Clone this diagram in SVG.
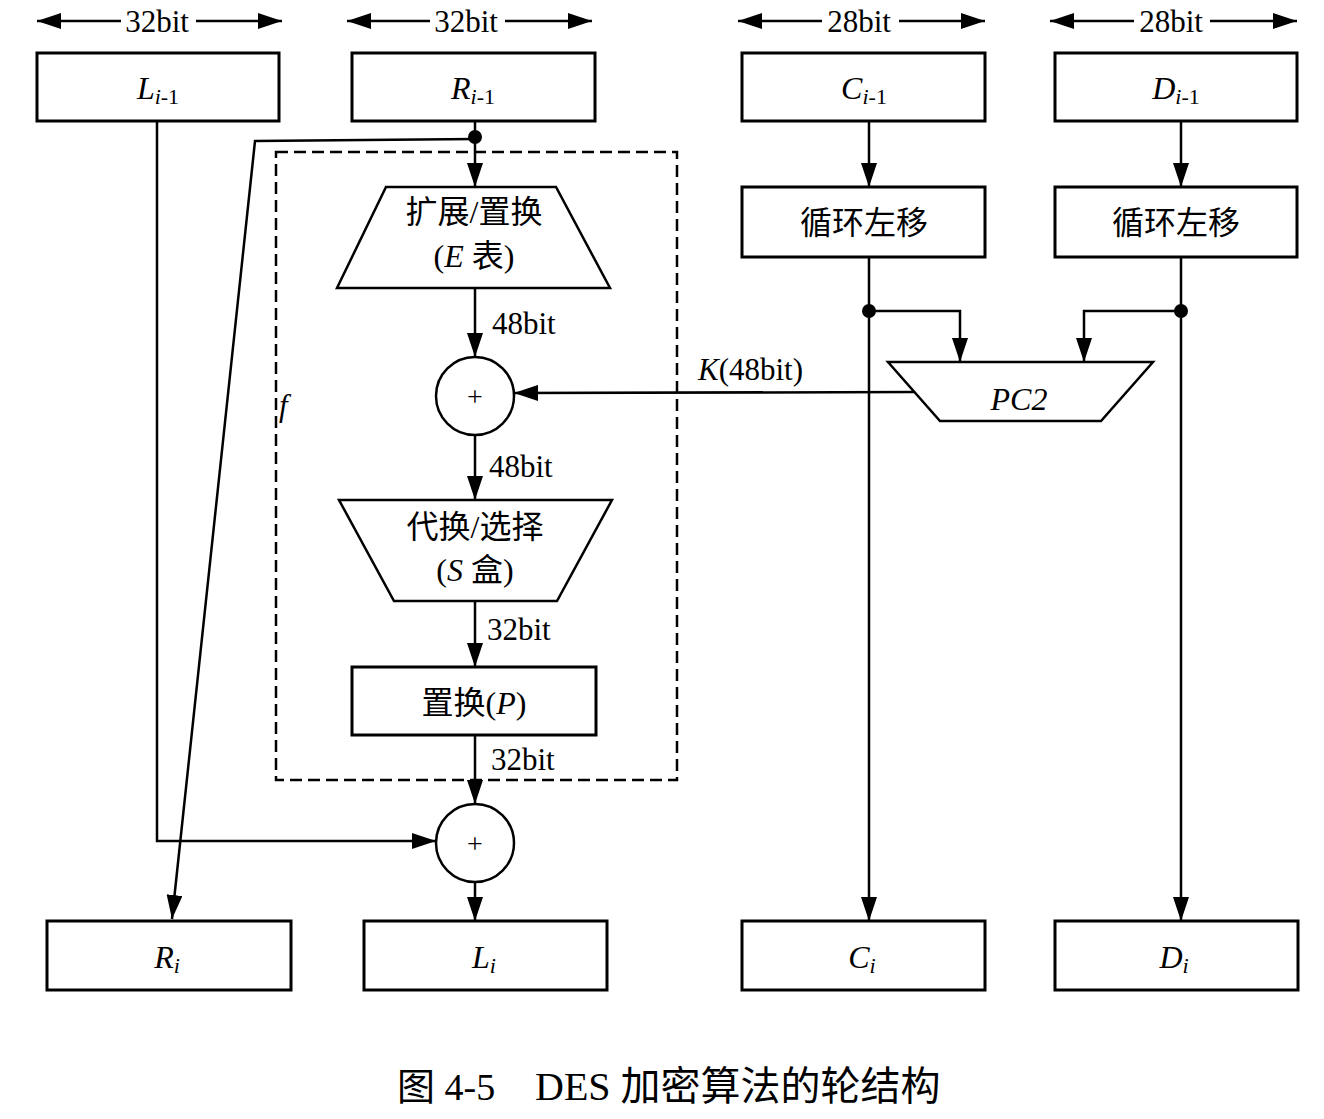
<svg xmlns="http://www.w3.org/2000/svg" width="1324" height="1119" viewBox="0 0 1324 1119">
<style>
.box{fill:#fff;stroke:#000;stroke-width:3}
.shape{fill:#fff;stroke:#000;stroke-width:2.5}
.w{fill:none;stroke:#000;stroke-width:2.5}
.t{font-family:"Liberation Serif","Noto Sans CJK SC",serif;font-size:31px;fill:#000}
.lbl{font-family:"Liberation Serif","Noto Sans CJK SC",serif;font-size:32px;fill:#000;text-anchor:middle}
.it{font-style:italic}
.sub{font-size:22px}
.plus{font-family:"Liberation Serif",serif;font-size:28px;fill:#000;text-anchor:middle}
.cap{font-family:"Liberation Serif","Noto Sans CJK SC",serif;font-size:38px;fill:#000}
</style>
<defs>
<marker id="ah" viewBox="0 0 24 16" refX="24" refY="8" markerWidth="24" markerHeight="16" markerUnits="userSpaceOnUse" orient="auto-start-reverse">
<path d="M0,0 L24,8 L0,16 z" fill="#000"/>
</marker>
</defs>
<rect width="1324" height="1119" fill="#fff"/>

<g id="dims">
<line class="w" x1="37" y1="21" x2="121" y2="21" marker-start="url(#ah)"/>
<line class="w" x1="196" y1="21" x2="282" y2="21" marker-end="url(#ah)"/>
<text class="t" x="157" y="32" text-anchor="middle">32bit</text>
<line class="w" x1="347" y1="21" x2="430" y2="21" marker-start="url(#ah)"/>
<line class="w" x1="505" y1="21" x2="592" y2="21" marker-end="url(#ah)"/>
<text class="t" x="466" y="32" text-anchor="middle">32bit</text>
<line class="w" x1="738" y1="21" x2="822" y2="21" marker-start="url(#ah)"/>
<line class="w" x1="899" y1="21" x2="985" y2="21" marker-end="url(#ah)"/>
<text class="t" x="859" y="32" text-anchor="middle">28bit</text>
<line class="w" x1="1050" y1="21" x2="1134" y2="21" marker-start="url(#ah)"/>
<line class="w" x1="1210" y1="21" x2="1297" y2="21" marker-end="url(#ah)"/>
<text class="t" x="1171" y="32" text-anchor="middle">28bit</text>
</g>

<g id="Lprev"><rect class="box" x="37" y="53" width="242" height="68"/><text class="lbl" x="158" y="99"><tspan class="it">L</tspan><tspan class="sub it" dy="5">i</tspan><tspan class="sub">-1</tspan></text></g>
<g id="Rprev"><rect class="box" x="352" y="53" width="243" height="68"/><text class="lbl" x="473" y="99"><tspan class="it">R</tspan><tspan class="sub it" dy="5">i</tspan><tspan class="sub">-1</tspan></text></g>
<g id="Cprev"><rect class="box" x="742" y="53" width="243" height="68"/><text class="lbl" x="864" y="99"><tspan class="it">C</tspan><tspan class="sub it" dy="5">i</tspan><tspan class="sub">-1</tspan></text></g>
<g id="Dprev"><rect class="box" x="1055" y="53" width="242" height="68"/><text class="lbl" x="1176" y="99"><tspan class="it">D</tspan><tspan class="sub it" dy="5">i</tspan><tspan class="sub">-1</tspan></text></g>

<g id="fbox"><rect x="276" y="152" width="401" height="628" fill="none" stroke="#000" stroke-width="2.5" stroke-dasharray="12,6"/><text class="t it" x="279" y="416">f</text></g>

<g id="E"><polygon class="shape" points="386,187 556,187 610,288 337,288"/><text class="lbl" x="474" y="223">扩展/置换</text><text class="lbl" x="474" y="267">(<tspan class="it">E</tspan> 表)</text></g>

<g id="xor1"><circle class="shape" cx="475" cy="396" r="39"/><text class="plus" x="475" y="406">+</text></g>

<g id="S"><polygon class="shape" points="339,500 612,500 557,601 394,601"/><text class="lbl" x="475" y="538">代换/选择</text><text class="lbl" x="475" y="581">(<tspan class="it">S</tspan> 盒)</text></g>

<g id="P"><rect class="box" x="352" y="667" width="244" height="68"/><text class="lbl" x="474" y="714">置换(<tspan class="it">P</tspan>)</text></g>

<g id="xor2"><circle class="shape" cx="475" cy="843" r="39"/><text class="plus" x="475" y="853">+</text></g>

<g id="Ri"><rect class="box" x="47" y="921" width="244" height="69"/><text class="lbl" x="167" y="968"><tspan class="it">R</tspan><tspan class="sub it" dy="5">i</tspan></text></g>
<g id="Li"><rect class="box" x="364" y="921" width="243" height="69"/><text class="lbl" x="484" y="968"><tspan class="it">L</tspan><tspan class="sub it" dy="5">i</tspan></text></g>
<g id="Ci"><rect class="box" x="742" y="921" width="243" height="69"/><text class="lbl" x="862" y="968"><tspan class="it">C</tspan><tspan class="sub it" dy="5">i</tspan></text></g>
<g id="Di"><rect class="box" x="1055" y="921" width="243" height="69"/><text class="lbl" x="1174" y="968"><tspan class="it">D</tspan><tspan class="sub it" dy="5">i</tspan></text></g>

<g id="shiftC"><rect class="box" x="742" y="187" width="243" height="70"/><text class="lbl" x="864" y="234">循环左移</text></g>
<g id="shiftD"><rect class="box" x="1055" y="187" width="242" height="70"/><text class="lbl" x="1176" y="234">循环左移</text></g>

<g id="PC2"><polygon class="shape" points="888,362 1153,362 1101,421 940,421"/><text class="lbl it" x="1019" y="410">PC2</text></g>

<g id="connectors">
<line class="w" x1="475" y1="121" x2="475" y2="187" marker-end="url(#ah)"/>
<circle cx="475" cy="137" r="7" fill="#000"/>
<polyline class="w" points="475,139 255,141 172,919" marker-end="url(#ah)"/>
<line class="w" x1="475" y1="288" x2="475" y2="357" marker-end="url(#ah)"/>
<text class="t" x="492" y="334">48bit</text>
<line class="w" x1="475" y1="435" x2="475" y2="500" marker-end="url(#ah)"/>
<text class="t" x="489" y="477">48bit</text>
<line class="w" x1="475" y1="601" x2="475" y2="667" marker-end="url(#ah)"/>
<text class="t" x="487" y="640">32bit</text>
<line class="w" x1="475" y1="735" x2="475" y2="804" marker-end="url(#ah)"/>
<text class="t" x="491" y="770">32bit</text>
<line class="w" x1="475" y1="882" x2="475" y2="921" marker-end="url(#ah)"/>
<polyline class="w" points="157,121 157,841 436,841" marker-end="url(#ah)"/>
<line class="w" x1="914" y1="392" x2="514" y2="393" marker-end="url(#ah)"/>
<text class="t" x="698" y="380"><tspan class="it">K</tspan>(48bit)</text>
<line class="w" x1="869" y1="121" x2="869" y2="187" marker-end="url(#ah)"/>
<line class="w" x1="869" y1="257" x2="869" y2="921" marker-end="url(#ah)"/>
<circle cx="869" cy="311" r="7" fill="#000"/>
<polyline class="w" points="869,311 960,311 960,362" marker-end="url(#ah)"/>
<line class="w" x1="1181" y1="121" x2="1181" y2="187" marker-end="url(#ah)"/>
<line class="w" x1="1181" y1="257" x2="1181" y2="921" marker-end="url(#ah)"/>
<circle cx="1181" cy="311" r="7" fill="#000"/>
<polyline class="w" points="1181,311 1084,311 1084,362" marker-end="url(#ah)"/>
</g>

<g id="caption"><text class="cap" x="397" y="1100">图 4-5</text><text class="cap" x="535" y="1100" style="font-size:40px">DES 加密算法的轮结构</text></g>
</svg>
